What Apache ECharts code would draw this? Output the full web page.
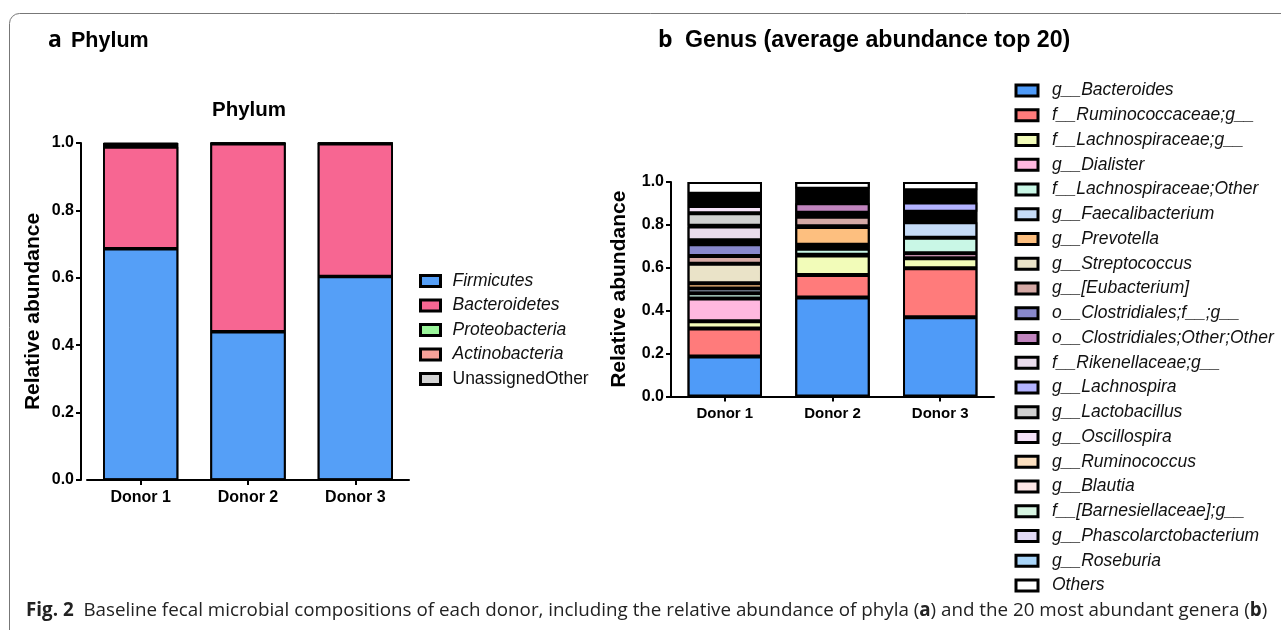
<!DOCTYPE html>
<html><head><meta charset="utf-8">
<script src="https://cdn.jsdelivr.net/npm/echarts@6/dist/echarts.min.js"></script>
<style>html,body{margin:0;padding:0;background:#fff}#c{width:1281px;height:630px}</style>
</head><body><div id="c"></div>
<script>
// ---------- data ----------
const donors = ['Donor 1', 'Donor 2', 'Donor 3'];
const yTickLabels = ['0.0', '0.2', '0.4', '0.6', '0.8', '1.0'];

// Panel a: phylum
const phylumNames = ['Firmicutes', 'Bacteroidetes', 'Proteobacteria', 'Actinobacteria', 'UnassignedOther'];
const firmicutes      = [0.686, 0.440, 0.604];
const bacteroidetes   = [0.302, 0.558, 0.394];
const proteobacteria  = [0.005, 0.001, 0.001];
const actinobacteria  = [0.004, 0.0005, 0.0005];
const unassignedOther = [0.003, 0.0005, 0.0005];
const phylumColors = ['#559FF7', '#F76692', '#9AF59A', '#F7A29A', '#D3D3D3'];

// Panel b: genus (top 20 + others)
const genusNames = ['g__Bacteroides', 'f__Ruminococcaceae;g__', 'f__Lachnospiraceae;g__', 'g__Dialister',
  'f__Lachnospiraceae;Other', 'g__Faecalibacterium', 'g__Prevotella', 'g__Streptococcus', 'g__[Eubacterium]',
  'o__Clostridiales;f__;g__', 'o__Clostridiales;Other;Other', 'f__Rikenellaceae;g__', 'g__Lachnospira',
  'g__Lactobacillus', 'g__Oscillospira', 'g__Ruminococcus', 'g__Blautia', 'f__[Barnesiellaceae];g__',
  'g__Phascolarctobacterium', 'g__Roseburia', 'Others'];
const gBacteroides        = [0.187, 0.461, 0.369];
const gRuminococcaceae    = [0.130, 0.106, 0.229];
const gLachnospiraceaeG   = [0.034, 0.090, 0.046];
const gDialister          = [0.106, 0.004, 0.024];
const gLachnospiraceaeO   = [0.024, 0.028, 0.072];
const gFaecalibacterium   = [0.023, 0.019, 0.072];
const gPrevotella         = [0.024, 0.082, 0.008];
const gStreptococcus      = [0.091, 0.004, 0.008];
const gEubacterium        = [0.036, 0.044, 0.008];
const gClostridialesFG    = [0.055, 0.019, 0.008];
const gClostridialesOO    = [0.019, 0.044, 0.008];
const gRikenellaceae      = [0.064, 0.007, 0.009];
const gLachnospira        = [0.003, 0.008, 0.043];
const gLactobacillus      = [0.058, 0.007, 0.008];
const gOscillospira       = [0.034, 0.008, 0.008];
const gRuminococcus       = [0.011, 0.007, 0.008];
const gBlautia            = [0.012, 0.008, 0.008];
const gBarnesiellaceae    = [0.011, 0.007, 0.008];
const gPhascolarcto       = [0.012, 0.008, 0.008];
const gRoseburia          = [0.011, 0.007, 0.009];
const gOthers             = [0.055, 0.032, 0.039];
const genusColors = ['#4F9BF8', '#FF7B7B', '#F2FCB9', '#FFB8DF', '#C9F7E6', '#C6DCF7', '#FDBF7F', '#EAE3C8',
  '#D5A9A5', '#8888CC', '#C084BE', '#EADCEC', '#B3B3FF', '#D0D0D0', '#F5E2F8', '#FCE0C0', '#FDE6E6',
  '#D7F5E2', '#E2DAF6', '#A9D5F9', '#FFFFFF'];

// ---------- build ----------
const phylumValues = [firmicutes, bacteroidetes, proteobacteria, actinobacteria, unassignedOther];
const genusValues = [gBacteroides, gRuminococcaceae, gLachnospiraceaeG, gDialister, gLachnospiraceaeO,
  gFaecalibacterium, gPrevotella, gStreptococcus, gEubacterium, gClostridialesFG, gClostridialesOO,
  gRikenellaceae, gLachnospira, gLactobacillus, gOscillospira, gRuminococcus, gBlautia, gBarnesiellaceae,
  gPhascolarcto, gRoseburia, gOthers];
const colSum = arrs => donors.map((_, j) => arrs.reduce((s, a) => s + a[j], 0));

const FONT = '"Liberation Sans", Arial, sans-serif';
const OPEN = '"Open Sans", sans-serif';
const series = [];
function addPanel(names, values, colors, axis, bw, segBorder, outBorder) {
  // black backing (shows through hairline gaps between thin segments, like the merged borders)
  series.push({
    name: 'backing' + axis, type: 'bar', xAxisIndex: axis, yAxisIndex: axis, barWidth: bw, barGap: '-100%',
    z: 1, silent: true, data: colSum(values),
    itemStyle: { color: '#000' }, emphasis: { disabled: true }
  });
  names.forEach((n, i) => series.push({
    name: n, type: 'bar', stack: 'st' + axis, xAxisIndex: axis, yAxisIndex: axis, barWidth: bw, barGap: '-100%',
    z: 2, data: values[i],
    itemStyle: { color: colors[i], borderColor: '#000', borderWidth: segBorder },
    emphasis: { disabled: true }
  }));
  series.push({
    name: 'outline' + axis, type: 'bar', xAxisIndex: axis, yAxisIndex: axis, barWidth: bw, barGap: '-100%',
    z: 5, silent: true, data: colSum(values),
    itemStyle: { color: 'rgba(0,0,0,0)', borderColor: '#000', borderWidth: outBorder }, emphasis: { disabled: true }
  });
}
addPanel(phylumNames, phylumValues, phylumColors, 0, '70%', 1.8, 1.5);
addPanel(genusNames, genusValues, genusColors, 1, '69%', 2, 1.3);

function yAx(gridIndex, nameGap, offset) {
  return {
    gridIndex, type: 'value', min: 0, max: 1, interval: 0.2, offset,
    name: 'Relative abundance', nameLocation: 'middle', nameGap,
    nameTextStyle: { fontFamily: FONT, fontSize: 21, fontWeight: 'bold', color: '#000' },
    axisLine: { show: true, lineStyle: { color: '#000', width: 2 } },
    axisTick: { show: true, length: 5, lineStyle: { color: '#000', width: 2 } },
    axisLabel: { fontFamily: FONT, fontSize: 16, fontWeight: 'bold', color: '#000', margin: 7,
      formatter: v => yTickLabels[Math.round(v / 0.2)] },
    splitLine: { show: false }
  };
}
function xAx(gridIndex, fs) {
  return {
    gridIndex, type: 'category', data: donors,
    axisLine: { show: true, lineStyle: { color: '#000', width: 2 } },
    axisTick: { show: true, alignWithLabel: true, length: 5, lineStyle: { color: '#000', width: 2 } },
    axisLabel: { fontFamily: FONT, fontSize: fs, fontWeight: 'bold', color: '#000', margin: 10 }
  };
}
function legendRich(size, padLeft) {
  return {
    i: { fontFamily: FONT, fontSize: size, fontStyle: 'italic', color: '#111', padding: [0, 0, 0, padLeft], lineHeight: size },
    n: { fontFamily: FONT, fontSize: size, color: '#111', padding: [0, 0, 0, padLeft], lineHeight: size }
  };
}

const option = {
  animation: false,
  backgroundColor: '#fff',
  grid: [
    { left: 87, top: 143, width: 322, height: 337 },
    { left: 671, top: 182, width: 323, height: 214.5 }
  ],
  xAxis: [xAx(0, 16), xAx(1, 15)],
  yAxis: [yAx(0, 37, 6), yAx(1, 41, 0)],
  legend: [
    {
      data: phylumNames, orient: 'vertical', left: 419, top: 272, padding: 0,
      itemWidth: 20, itemHeight: 11, itemGap: 6.5,
      icon: 'rect', selectedMode: false,
      itemStyle: { borderColor: '#000', borderWidth: 3 },
      formatter: n => n === 'UnassignedOther' ? '{n|' + n + '}' : '{i|' + n + '}',
      textStyle: { rich: legendRich(17.5, 7) }
    },
    {
      data: genusNames, orient: 'vertical', left: 1014.5, top: 81.5, padding: 0,
      itemWidth: 22, itemHeight: 11, itemGap: 6.75,
      icon: 'rect', selectedMode: false,
      itemStyle: { borderColor: '#000', borderWidth: 3 },
      formatter: n => '{i|' + n + '}',
      textStyle: { rich: legendRich(17.5, 9) }
    }
  ],
  series,
  graphic: [
    { type: 'rect', silent: true, shape: { x: 9.5, y: 13.5, width: 1500, height: 900, r: 10 },
      style: { fill: 'none', stroke: '#777', lineWidth: 1 } },
    { type: 'text', x: 48, y: 40, style: { text: 'a', verticalAlign: 'middle',
        fontFamily: OPEN, fontSize: 23, fontWeight: 'bold', fill: '#000' } },
    { type: 'text', x: 71, y: 41, style: { text: 'Phylum', verticalAlign: 'middle',
        fontFamily: FONT, fontSize: 21.5, fontWeight: 'bold', fill: '#000' } },
    { type: 'text', x: 658, y: 40, style: { text: 'b', verticalAlign: 'middle',
        fontFamily: OPEN, fontSize: 23, fontWeight: 'bold', fill: '#000' } },
    { type: 'text', x: 685, y: 41, style: { text: 'Genus (average abundance top 20)', verticalAlign: 'middle',
        fontFamily: FONT, fontSize: 23.2, fontWeight: 'bold', fill: '#000' } },
    { type: 'text', x: 249, y: 110, style: { text: 'Phylum', align: 'center', verticalAlign: 'middle',
        fontFamily: FONT, fontSize: 20.5, fontWeight: 'bold', fill: '#000' } },
    { type: 'text', x: 26, y: 611, style: {
        text: '{b|Fig. 2}  Baseline fecal microbial compositions of each donor, including the relative abundance of phyla ({b|a}) and the 20 most abundant genera ({b|b})',
        verticalAlign: 'middle',
        fontFamily: OPEN, fontSize: 18.8, fill: '#222',
        rich: { b: { fontFamily: OPEN, fontSize: 18.8, fontWeight: 'bold', fill: '#222' } } } }
  ]
};
const chart = echarts.init(document.getElementById('c'), null, { renderer: 'canvas' });
chart.setOption(option);
</script>
</body></html>
